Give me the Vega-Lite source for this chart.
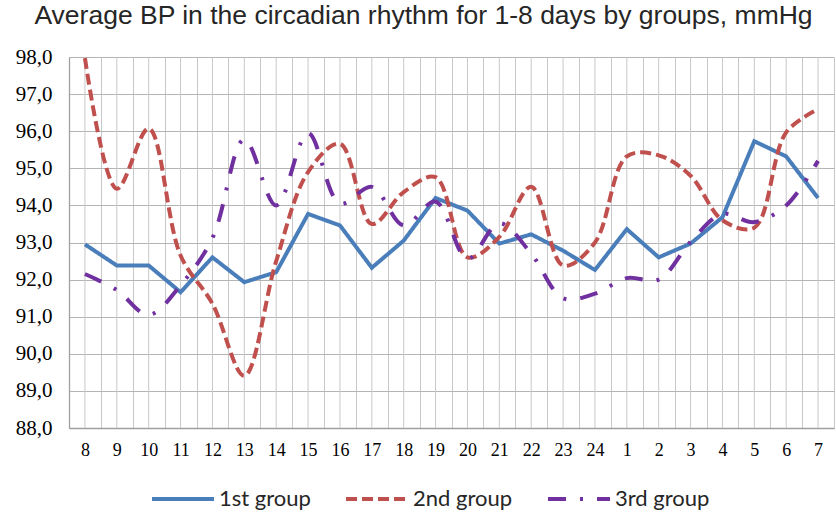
{
  "$schema": "https://vega.github.io/schema/vega-lite/v6.json",
  "autosize": {"type": "none"},
  "width": 765,
  "height": 371,
  "padding": {"left": 69, "top": 57, "right": 2, "bottom": 85},
  "background": "white",
  "config": {"view": {"stroke": null}},
  "title": {
    "text": "Average BP in the circadian rhythm for 1-8 days by groups, mmHg",
    "font": "Liberation Sans",
    "fontSize": 26.5,
    "fontWeight": "normal",
    "color": "#262626",
    "anchor": "middle",
    "frame": "group",
    "dx": -28,
    "dy": 12,
    "baseline": "alphabetic",
    "offset": 8
  },
  "data": {
    "values": [
      {"hour": "8", "1st group": 92.95, "2nd group": 97.97, "3rd group": 92.15},
      {"hour": "9", "1st group": 92.38, "2nd group": 94.45, "3rd group": 91.72},
      {"hour": "10", "1st group": 92.38, "2nd group": 96.07, "3rd group": 91.05},
      {"hour": "11", "1st group": 91.66, "2nd group": 92.65, "3rd group": 91.85},
      {"hour": "12", "1st group": 92.6, "2nd group": 91.35, "3rd group": 93.12},
      {"hour": "13", "1st group": 91.93, "2nd group": 89.41, "3rd group": 95.78},
      {"hour": "14", "1st group": 92.2, "2nd group": 92.5, "3rd group": 94.0},
      {"hour": "15", "1st group": 93.77, "2nd group": 94.9, "3rd group": 95.95},
      {"hour": "16", "1st group": 93.46, "2nd group": 95.66, "3rd group": 94.05},
      {"hour": "17", "1st group": 92.32, "2nd group": 93.5, "3rd group": 94.5},
      {"hour": "18", "1st group": 93.05, "2nd group": 94.36, "3rd group": 93.46},
      {"hour": "19", "1st group": 94.2, "2nd group": 94.76, "3rd group": 94.1},
      {"hour": "20", "1st group": 93.86, "2nd group": 92.6, "3rd group": 92.56},
      {"hour": "21", "1st group": 92.97, "2nd group": 93.15, "3rd group": 93.52},
      {"hour": "22", "1st group": 93.22, "2nd group": 94.5, "3rd group": 92.7},
      {"hour": "23", "1st group": 92.78, "2nd group": 92.38, "3rd group": 91.5},
      {"hour": "24", "1st group": 92.26, "2nd group": 93.0, "3rd group": 91.62},
      {"hour": "1", "1st group": 93.36, "2nd group": 95.32, "3rd group": 92.04},
      {"hour": "2", "1st group": 92.6, "2nd group": 95.35, "3rd group": 92.0},
      {"hour": "3", "1st group": 92.97, "2nd group": 94.8, "3rd group": 93.02},
      {"hour": "4", "1st group": 93.68, "2nd group": 93.6, "3rd group": 93.77},
      {"hour": "5", "1st group": 95.73, "2nd group": 93.4, "3rd group": 93.55},
      {"hour": "6", "1st group": 95.32, "2nd group": 95.97, "3rd group": 94.0},
      {"hour": "7", "1st group": 94.2, "2nd group": 96.59, "3rd group": 95.2}
    ]
  },
  "transform": [
    {"fold": ["1st group", "2nd group", "3rd group"], "as": ["group", "bp"]}
  ],
  "encoding": {
    "x": {
      "field": "hour",
      "type": "ordinal",
      "bandPosition": 0.5,
      "scale": {
        "type": "band",
        "paddingInner": 0,
        "paddingOuter": 0,
        "domain": ["8","9","10","11","12","13","14","15","16","17","18","19","20","21","22","23","24","1","2","3","4","5","6","7"]
      },
      "axis": {
        "title": null,
        "grid": true,
        "tickBand": "extent",
        "gridColor": "#c8c8c8",
        "gridWidth": 1,
        "ticks": false,
        "domainColor": "#a0a0a0",
        "domainWidth": 1.3,
        "labelAngle": 0,
        "labelFont": "Liberation Serif",
        "labelFontSize": 18,
        "labelColor": "#000000",
        "labelBaseline": "alphabetic",
        "labelPadding": 27
      }
    },
    "y": {
      "field": "bp",
      "type": "quantitative",
      "scale": {"domain": [88, 98], "nice": false, "zero": false},
      "axis": {
        "title": null,
        "values": [88, 89, 90, 91, 92, 93, 94, 95, 96, 97, 98],
        "grid": true,
        "gridColor": "#b4b4b4",
        "gridWidth": 1.2,
        "ticks": false,
        "domainColor": "#a0a0a0",
        "domainWidth": 1.3,
        "labelFont": "Liberation Serif",
        "labelFontSize": 21,
        "labelColor": "#000000",
        "labelPadding": 17,
        "labelExpr": "replace(format(datum.value, '.1f'), '.', ',')"
      }
    }
  },
  "layer": [
    {
      "transform": [{"filter": "datum.group === '1st group'"}],
      "mark": {"type": "rule", "color": "#c8c8c8", "strokeWidth": 1},
      "encoding": {
        "x": {"field": "hour", "type": "ordinal", "bandPosition": 0.5},
        "y": null
      }
    },
    {
      "transform": [{"filter": "datum.group === '1st group'"}],
      "mark": {"type": "line", "strokeWidth": 4, "interpolate": "linear"},
      "encoding": {
        "color": {
          "field": "group",
          "type": "nominal",
          "scale": {"domain": ["1st group", "2nd group", "3rd group"], "range": ["#4A7EBB", "#C0504D", "#7030A0"]},
          "legend": {
            "orient": "none",
            "legendX": 81,
            "legendY": 409,
            "direction": "horizontal",
            "title": null,
            "symbolType": "stroke",
            "symbolSize": 3844,
            "symbolStrokeWidth": 4,
            "labelFont": "Lato",
            "labelFontSize": 22,
            "labelColor": "#262626",
            "labelOffset": 3,
            "columnPadding": 27
          }
        },
        "strokeDash": {
          "field": "group",
          "type": "nominal",
          "scale": {"domain": ["1st group", "2nd group", "3rd group"], "range": [[1, 0], [11, 5], [18, 14, 3, 14]]}
        }
      }
    },
    {
      "transform": [{"filter": "datum.group !== '1st group'"}],
      "mark": {"type": "line", "strokeWidth": 4, "interpolate": "catmull-rom"},
      "encoding": {
        "color": {"field": "group", "type": "nominal"},
        "strokeDash": {"field": "group", "type": "nominal"}
      }
    }
  ]
}
